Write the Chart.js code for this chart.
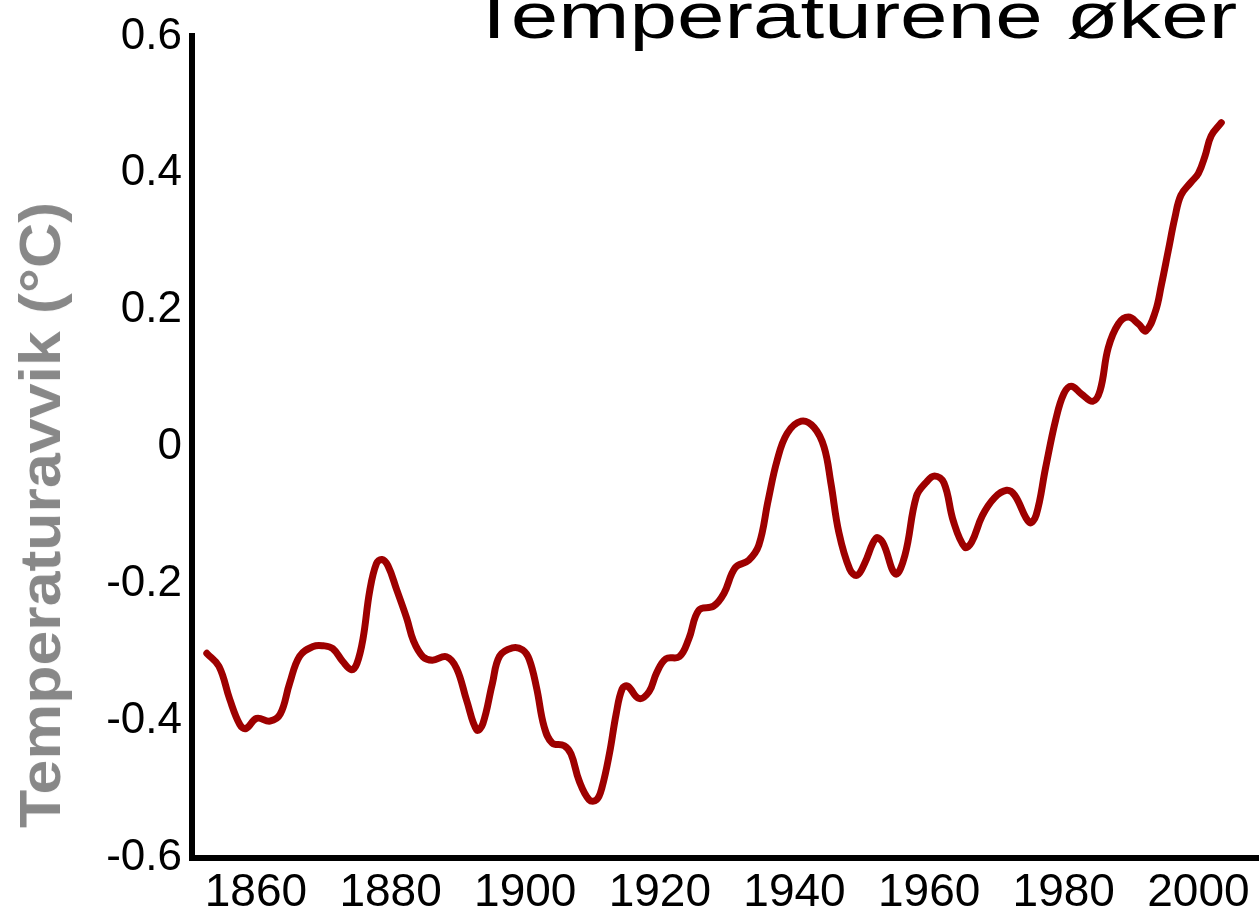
<!DOCTYPE html>
<html>
<head>
<meta charset="utf-8">
<script src="https://cdn.jsdelivr.net/npm/chart.js@4"></script>
<style>
  html, body { margin: 0; padding: 0; background: #ffffff; }
  #wrap { position: relative; width: 1259px; height: 908px; overflow: hidden; background: #ffffff; }
  #c { position: absolute; left: 0; top: 0; }
  #title {
    position: absolute; left: 468px; top: -16px;
    font-family: "Liberation Sans", Arial, sans-serif; font-size: 64px; line-height: 64px;
    color: #000; white-space: nowrap;
    transform: scaleX(1.335); transform-origin: 0 0;
  }
  #ytitle {
    position: absolute; left: 40px; top: 515px;
    font-family: "Liberation Sans", Arial, sans-serif; font-weight: bold; font-size: 58px; line-height: 58px;
    color: #888888; white-space: nowrap;
    transform: translate(-50%, -50%) rotate(-90deg) scaleX(1.08);
  }
</style>
</head>
<body>
<div id="wrap">
  <canvas id="c" width="1259" height="908"></canvas>
  <div id="title">Temperaturene øker</div>
  <div id="ytitle">Temperaturavvik (°C)</div>
</div>
<script>
const chartTitle = "Temperaturene øker";
const yAxisTitle = "Temperaturavvik (°C)";

const years = [
  1852.7, 1854.5, 1856.1, 1857.6, 1858.5, 1860.1, 1862.1, 1863.6, 1865.0, 1866.5,
  1868.5, 1870.0, 1871.4, 1872.9, 1874.2, 1875.0, 1875.9, 1876.9, 1877.9, 1878.7,
  1879.6, 1880.9, 1882.4, 1883.4, 1884.8, 1886.2, 1888.3, 1889.8, 1891.3, 1892.8,
  1893.7, 1895.1, 1896.2, 1898.1, 1899.6, 1900.6, 1901.7, 1902.8, 1904.0, 1905.8,
  1906.8, 1908.0, 1909.5, 1910.6, 1911.4, 1912.5, 1913.5, 1914.4, 1915.2, 1916.9,
  1918.4, 1919.5, 1920.9, 1922.9, 1924.3, 1925.8, 1928.0, 1929.5, 1931.2, 1933.2,
  1934.7, 1936.1, 1937.4, 1938.9, 1941.0, 1942.9, 1944.4, 1945.4, 1946.6, 1948.2,
  1949.3, 1950.4, 1952.1, 1953.1, 1955.0, 1956.4, 1958.1, 1959.5, 1960.8, 1962.2,
  1963.6, 1965.3, 1966.3, 1967.9, 1969.7, 1971.5, 1972.7, 1974.9, 1975.9, 1977.3,
  1978.8, 1980.0, 1981.1, 1982.6, 1984.3, 1985.4, 1986.6, 1988.1, 1989.6, 1991.1,
  1992.2, 1993.6, 1994.5, 1995.5, 1996.5, 1997.4, 1998.9, 2000.0, 2001.0, 2001.9,
  2003.4
];
const anomalies = [
  -0.301, -0.320, -0.368, -0.405, -0.411, -0.396, -0.400, -0.390, -0.345, -0.305,
  -0.291, -0.290, -0.294, -0.313, -0.325, -0.316, -0.280, -0.210, -0.170, -0.164,
  -0.173, -0.208, -0.250, -0.283, -0.306, -0.311, -0.306, -0.323, -0.370, -0.413,
  -0.404, -0.346, -0.305, -0.293, -0.296, -0.310, -0.352, -0.408, -0.432, -0.436,
  -0.448, -0.487, -0.515, -0.515, -0.497, -0.448, -0.390, -0.353, -0.349, -0.367,
  -0.357, -0.330, -0.309, -0.306, -0.280, -0.238, -0.232, -0.214, -0.176, -0.165,
  -0.143, -0.077, -0.020, 0.020, 0.038, 0.029, 0.000, -0.052, -0.125, -0.178,
  -0.187, -0.170, -0.133, -0.139, -0.185, -0.158, -0.072, -0.052, -0.042, -0.052,
  -0.108, -0.146, -0.139, -0.100, -0.074, -0.063, -0.070, -0.110, -0.099, -0.030,
  0.040, 0.078, 0.089, 0.078, 0.067, 0.083, 0.145, 0.180, 0.190, 0.180,
  0.170, 0.198, 0.237, 0.286, 0.335, 0.368, 0.387, 0.400, 0.426, 0.455,
  0.474
];

const xTickYears = [1860, 1880, 1900, 1920, 1940, 1960, 1980, 2000];
const xTickLabels = ["1860", "1880", "1900", "1920", "1940", "1960", "1980", "2000"];
const yTickValues = [-0.6, -0.4, -0.2, 0, 0.2, 0.4, 0.6];
const yTickLabels = ["-0.6", "-0.4", "-0.2", "0", "0.2", "0.4", "0.6"];

const points = years.map((y, i) => ({ x: y, y: anomalies[i] }));
const FONT = "'Liberation Sans', Arial, sans-serif";

new Chart(document.getElementById('c'), {
  type: 'line',
  data: {
    datasets: [{
      label: yAxisTitle,
      data: points,
      borderColor: '#9e0000',
      borderWidth: 7,
      pointRadius: 0,
      tension: 0.4,
      fill: false,
      borderCapStyle: 'round',
      borderJoinStyle: 'round'
    }]
  },
  options: {
    responsive: false,
    animation: false,
    devicePixelRatio: 1,
    layout: { padding: { top: 30, left: 0, right: 0, bottom: 0 } },
    plugins: { legend: { display: false }, tooltip: { enabled: false }, title: { display: false } },
    scales: {
      x: {
        type: 'linear',
        min: 1850.5,
        max: 2009,
        grid: { display: false, drawTicks: false },
        border: { display: true, color: '#000', width: 6 },
        afterBuildTicks: (s) => { s.ticks = xTickYears.map(v => ({ value: v })); },
        afterFit: (s) => { s.height = 50; },
        ticks: {
          autoSkip: false,
          maxRotation: 0,
          padding: 8,
          color: '#000',
          font: { family: FONT, size: 46 },
          callback: (v) => { const i = xTickYears.indexOf(v); return i >= 0 ? xTickLabels[i] : ''; }
        }
      },
      y: {
        type: 'linear',
        min: -0.6,
        max: 0.6,
        grid: { display: false, drawTicks: false },
        border: { display: true, color: '#000', width: 6 },
        afterBuildTicks: (s) => { s.ticks = yTickValues.map(v => ({ value: v })); },
        afterFit: (s) => { s.width = 192; },
        ticks: {
          autoSkip: false,
          padding: 10,
          color: '#000',
          font: { family: FONT, size: 44 },
          callback: (v) => {
            const i = yTickValues.findIndex(t => Math.abs(t - v) < 1e-9);
            return i >= 0 ? yTickLabels[i] : '';
          }
        }
      }
    }
  }
});
</script>
</body>
</html>
